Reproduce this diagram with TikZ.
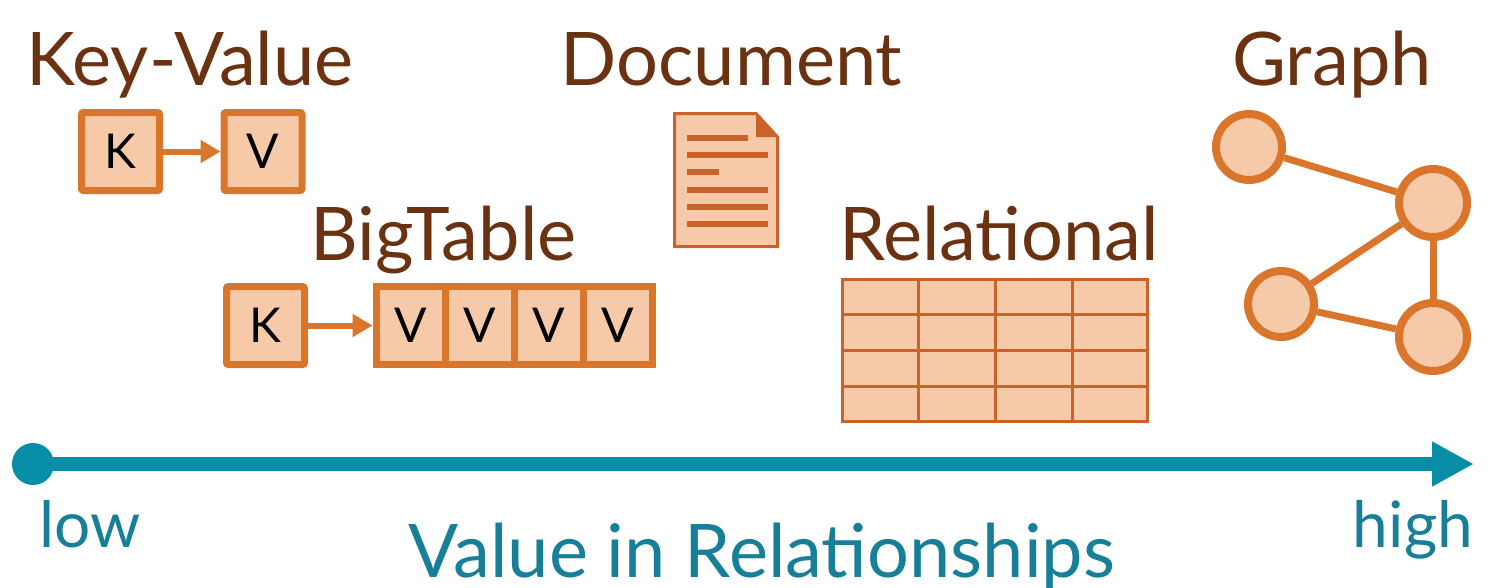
\documentclass[tikz,border=0pt]{standalone}
\usepackage{fontspec}
\setmainfont{Lato}
\usetikzlibrary{arrows.meta}
\definecolor{titlebrown}{HTML}{6A3210}
\definecolor{ostroke}{HTML}{D9762B}
\definecolor{ofill}{HTML}{F6C9A9}
\definecolor{odark}{HTML}{C9622B}
\definecolor{teal}{HTML}{078EA6}
\definecolor{tealtext}{HTML}{177F97}
\tikzset{
  title/.style={anchor=base, inner sep=0pt, text=titlebrown, font=\fontsize{74}{80}\selectfont},
  axislabel/.style={anchor=base, inner sep=0pt, text=tealtext, font=\fontsize{64}{70}\selectfont},
  axistitle/.style={anchor=base, inner sep=0pt, text=tealtext, font=\fontsize{74}{80}\selectfont},
  kvbox/.style={draw=ostroke, fill=ofill, line width=7pt, rounded corners=2pt, minimum width=78pt, minimum height=78pt, inner sep=0pt, font=\fontsize{48}{50}\selectfont, text=black},
  vcell/.style={kvbox, minimum width=69pt, rounded corners=0pt},
  kvarrow/.style={draw=ostroke, line width=6pt, -{Triangle[length=20pt,width=22pt]}},
  gnode/.style={circle, draw=ostroke, fill=ofill, line width=8pt, inner sep=0pt},
  gedge/.style={draw=ostroke, line width=7pt},
  docline/.style={draw=odark, line width=6pt},
}
\begin{document}
\begin{tikzpicture}[x=1pt,y=-1pt]
\useasboundingbox (0,0) rectangle (1500,587);
% titles
\node[title] (tkv) at (190,85) {Key-Value};
\node[title] (tdoc) at (731.5,85) {Document};
\node[title] (tgraph) at (1332,85) {Graph};
\node[title] (tbig) at (443.5,260) {BigTable};
\node[title] (trel) at (999,260) {Relational};
% key-value
\node[kvbox] (k1) at (120.5,151.5) {K};
\node[kvbox] (v1) at (263,151.5) {V};
\draw[kvarrow] (k1.east) -- (v1.west);
% bigtable
\node[kvbox] (k2) at (265.5,325.5) {K};
\node[vcell] (c1) at (410.5,325.5) {V};
\node[vcell] (c2) at (479.5,325.5) {V};
\node[vcell] (c3) at (548.5,325.5) {V};
\node[vcell] (c4) at (617.5,325.5) {V};
\draw[kvarrow] (k2.east) -- (c1.west);
% document
\draw[draw=odark, fill=ofill, line width=3pt, line join=miter] (674.5,113.5) -- (756,113.5) -- (777.5,137) -- (777.5,246.5) -- (674.5,246.5) -- cycle;
\fill[odark] (756,112) -- (779,137) -- (756,137) -- cycle;
\draw[docline] (687,138) -- (748,138);
\draw[docline] (687,155) -- (768,155);
\draw[docline] (687,172) -- (719,172);
\draw[docline] (687,190) -- (768,190);
\draw[docline] (687,207) -- (768,207);
\draw[docline] (687,224) -- (768,224);
% relational table
\draw[draw=odark, fill=ofill, line width=3pt] (842.5,279.5) rectangle (1147.5,421.5);
\foreach \xx in {918,995,1072} \draw[draw=odark, line width=3pt] (\xx,279.5) -- (\xx,421.5);
\foreach \yy in {314,350,386} \draw[draw=odark, line width=3pt] (842.5,\yy) -- (1147.5,\yy);
% graph
\node[gnode, minimum size=66pt] (g1) at (1249,147) {};
\node[gnode, minimum size=68pt] (g2) at (1433,203) {};
\node[gnode, minimum size=66pt] (g3) at (1281,304) {};
\node[gnode, minimum size=68pt] (g4) at (1433,337) {};
\draw[gedge] (g1) -- (g2);
\draw[gedge] (g2) -- (g3);
\draw[gedge] (g2) -- (g4);
\draw[gedge] (g3) -- (g4);
% axis
\node[circle, fill=teal, minimum size=42pt, inner sep=0pt] (a0) at (33,464) {};
\coordinate (a1) at (1474,464);
\draw[teal, line width=14pt, -{Triangle[length=42pt,width=42pt]}] (a0.center) -- (a1);
\node[axislabel] (low) at (90,547) {low};
\node[axislabel] (high) at (1413,547) {high};
\node[axistitle] (vr) at (762,577) {Value in Relationships};
\end{tikzpicture}
\end{document}
